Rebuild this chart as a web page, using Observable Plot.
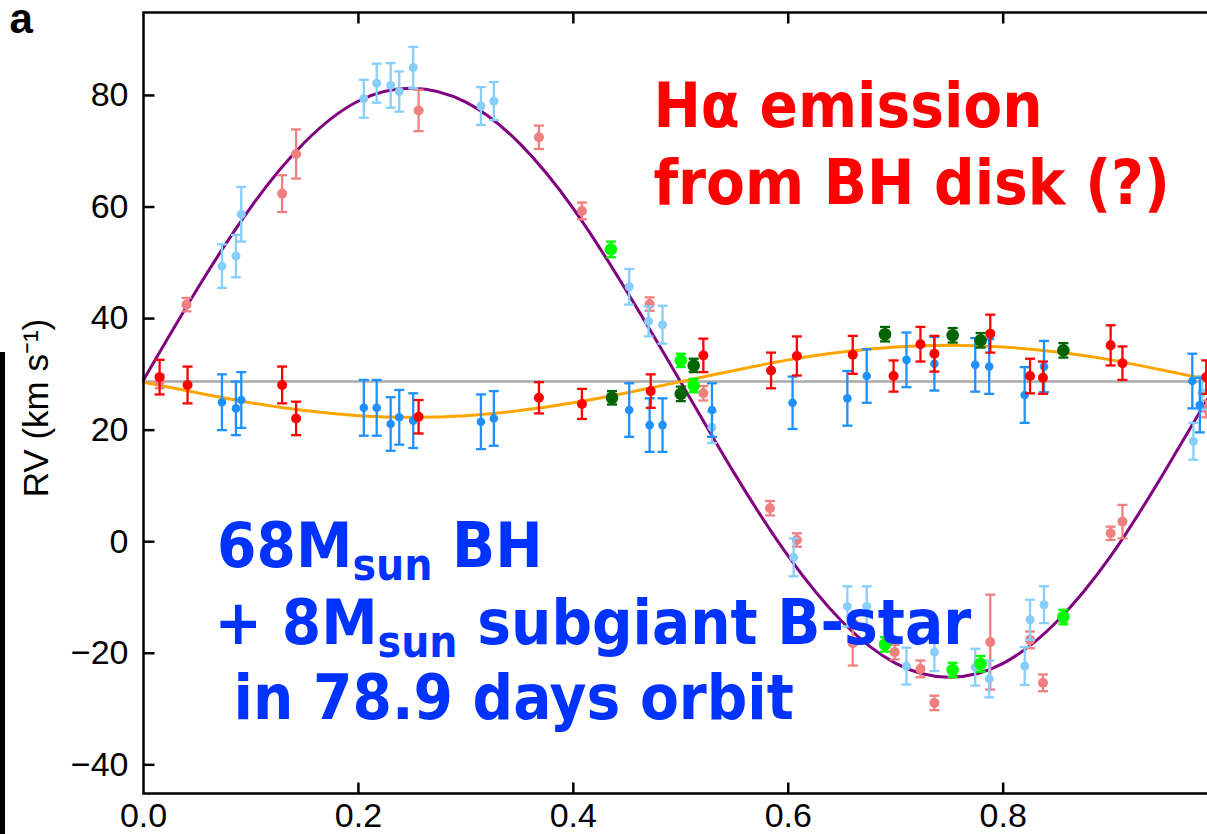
<!DOCTYPE html>
<html><head><meta charset="utf-8">
<script src="https://cdn.jsdelivr.net/npm/d3@7"></script>
<script src="https://cdn.jsdelivr.net/npm/@observablehq/plot@0.6"></script>
<style>
body{margin:0;background:#fff;}
#chart{position:relative;width:1207px;height:834px;overflow:hidden;background:#fff;}
#bar{position:absolute;left:0;top:352px;width:5px;height:482px;background:#000;}
</style></head><body>
<div id="chart"><div id="bar"></div></div>
<script>
// ---------- data (phase, RV km/s, error) ----------
// B-star lines (light sky blue)
const skyPhase = [0.073,0.086,0.091,0.205,0.217,0.230,0.238,0.251,0.314,0.326,0.452,0.470,0.483,0.529,0.605,0.655,0.673,0.710,0.736,0.774,0.787,0.820,0.825,0.838,0.977,0.985];
const skyRV    = [49.4,51.2,58.7,79.4,82.2,81.8,80.7,85.0,78.1,79.0,45.7,39.5,38.9,20.5,-2.8,-11.6,-11.6,-22.3,-19.8,-22.5,-24.6,-22.3,-14.0,-11.3,18.0,26.7];
const skyErr   = [3.9,3.8,4.9,3.4,3.5,4.0,3.6,3.7,3.4,3.4,3.2,2.7,3.4,2.8,3.4,3.6,3.6,3.3,3.4,3.3,3.3,3.4,3.6,3.3,3.3,3.0];
// B-star lines (light coral)
const coralPhase = [0.015,0.040,0.129,0.142,0.256,0.368,0.408,0.471,0.521,0.583,0.608,0.660,0.699,0.723,0.736,0.788,0.825,0.837,0.900,0.911,0.989];
const coralRV    = [28.7,42.5,62.4,69.5,77.3,72.5,59.3,42.6,26.6,6.0,0.3,-18.2,-19.8,-22.8,-28.9,-18.0,-17.6,-25.3,1.5,3.6,23.8];
const coralErr   = [1.2,1.2,3.3,4.4,3.7,2.1,1.5,1.2,1.3,1.3,1.2,4.0,1.3,1.5,1.3,8.5,1.5,1.5,1.2,3.0,1.5];
// B-star (lime)
const limePhase = [0.435,0.500,0.512,0.690,0.753,0.779,0.856];
const limeRV    = [52.4,32.5,28.0,-18.4,-23.0,-21.9,-13.5];
const limeErr   = [1.4,1.2,1.2,1.3,1.3,1.4,1.3];
// H-alpha emission (red)
const redPhase = [0.015,0.041,0.129,0.142,0.256,0.368,0.408,0.472,0.521,0.584,0.608,0.660,0.698,0.723,0.736,0.788,0.825,0.837,0.900,0.911,0.989];
const redRV    = [29.5,28.1,28.1,22.1,22.4,25.8,24.7,27.0,33.4,30.7,33.3,33.5,29.7,35.4,33.7,37.3,29.7,29.4,35.2,32.0,29.5];
const redErr   = [3.1,3.3,3.3,3.0,3.0,2.8,2.7,3.0,3.0,3.2,3.5,3.4,2.8,3.1,3.2,3.4,3.1,2.9,3.6,3.0,3.0];
// H-alpha (dodger blue)
const dodgerPhase = [0.073,0.086,0.091,0.205,0.217,0.230,0.238,0.251,0.314,0.326,0.452,0.471,0.483,0.529,0.604,0.655,0.673,0.710,0.736,0.774,0.787,0.820,0.838,0.976,0.983];
const dodgerRV    = [25.0,23.9,25.4,24.0,24.0,21.1,22.3,21.7,21.5,22.1,23.6,20.9,20.9,23.6,24.9,25.7,29.7,32.6,31.9,31.7,31.4,26.3,31.4,28.8,24.5];
const dodgerErr   = [5.0,4.8,5.0,5.0,5.0,4.8,4.9,4.9,4.9,4.9,4.8,4.8,4.8,4.8,4.7,4.9,4.8,4.9,4.8,4.8,4.9,5.0,4.6,4.9,4.9];
// H-alpha (dark green)
const dgreenPhase = [0.436,0.500,0.512,0.690,0.753,0.779,0.856];
const dgreenRV    = [25.8,26.5,31.6,37.2,37.0,36.1,34.3];
const dgreenErr   = [1.2,1.3,1.2,1.3,1.3,1.3,1.3];
// model curves
const curvePhase  = [0,0.05,0.10,0.15,0.20,0.25,0.30,0.35,0.40,0.45,0.50,0.55,0.60,0.65,0.70,0.75,0.80,0.85,0.90,0.95,1.00];
const purpleRV    = [29.0,45.3,60.0,71.6,79.0,81.3,78.8,71.4,59.7,44.8,28.6,12.2,-2.6,-14.3,-21.8,-24.3,-21.8,-14.3,-2.6,12.5,28.8];
const orangeRV    = [28.6,26.7,24.9,23.5,22.6,22.3,22.6,23.5,24.9,26.7,28.7,30.7,32.6,34.0,34.9,35.2,34.9,34.0,32.6,30.7,28.7];
const gammaRV = [28.7];
// ticks
const xTicks = [0.2,0.4,0.6,0.8];
const xLabels = [0,0.2,0.4,0.6,0.8];
const yTicks = [-40,-20,0,20,40,60,80];

// ---------- helpers ----------
const rows = (p, v, e) => p.map((x, i) => ({phase: x, rv: v[i], err: e[i]}));
const capSym = {draw(ctx){ ctx.moveTo(-5,0); ctx.lineTo(5,0); }};
const tickUp = {draw(ctx){ ctx.moveTo(0,0); ctx.lineTo(0,-11); }};
const tickDown = {draw(ctx){ ctx.moveTo(0,0); ctx.lineTo(0,11); }};
const tickRight = {draw(ctx){ ctx.moveTo(0,0); ctx.lineTo(11,0); }};
const tickLeft = {draw(ctx){ ctx.moveTo(0,0); ctx.lineTo(-11,0); }};

function errSeries(data, color, r, sw) {
  return [
    Plot.ruleX(data, {x: "phase", y1: d => d.rv - d.err, y2: d => d.rv + d.err, stroke: color, strokeWidth: sw}),
    Plot.dot(data, {x: "phase", y: d => d.rv + d.err, symbol: capSym, stroke: color, fill: "none", strokeWidth: sw}),
    Plot.dot(data, {x: "phase", y: d => d.rv - d.err, symbol: capSym, stroke: color, fill: "none", strokeWidth: sw}),
    Plot.dot(data, {x: "phase", y: "rv", r, fill: color, stroke: "none"})
  ];
}

const annFont = "'DejaVu Sans Condensed', 'DejaVu Sans', sans-serif";

const plot = Plot.plot({
  width: 1207,
  height: 834,
  marginLeft: 143,
  marginRight: -10.6,
  marginTop: 12,
  marginBottom: 41,
  style: {fontFamily: "'Liberation Sans', Arial, Helvetica, sans-serif", background: "white", color: "black"},
  x: {domain: [0, 1]},
  y: {domain: [-45.14, 94.87]},
  marks: [
    Plot.ruleY(gammaRV, {stroke: "#aaaaaa", strokeWidth: 2.5}),
    Plot.line(curvePhase.map((p, i) => ({phase: p, rv: purpleRV[i]})), {x: "phase", y: "rv", stroke: "#800080", strokeWidth: 3, curve: "natural"}),
    Plot.line(curvePhase.map((p, i) => ({phase: p, rv: orangeRV[i]})), {x: "phase", y: "rv", stroke: "#ffa500", strokeWidth: 3, curve: "natural"}),
    ...errSeries(rows(coralPhase, coralRV, coralErr), "#f08080", 5, 2.3),
    ...errSeries(rows(skyPhase, skyRV, skyErr), "#87cefa", 4.5, 2.3),
    ...errSeries(rows(dodgerPhase, dodgerRV, dodgerErr), "#1e90ff", 4.3, 2.3),
    ...errSeries(rows(redPhase, redRV, redErr), "#ff0000", 5, 2.3),
    ...errSeries(rows(dgreenPhase, dgreenRV, dgreenErr), "#006400", 6.3, 2.3),
    ...errSeries(rows(limePhase, limeRV, limeErr), "#00ff00", 6.3, 2.3),
    Plot.frame({stroke: "black", strokeWidth: 2.5}),
    Plot.dot(xTicks, {x: d => d, frameAnchor: "bottom", symbol: tickUp, stroke: "black", fill: "none", strokeWidth: 2.5}),
    Plot.dot(xTicks, {x: d => d, frameAnchor: "top", symbol: tickDown, stroke: "black", fill: "none", strokeWidth: 2.5}),
    Plot.dot(yTicks, {y: d => d, frameAnchor: "left", symbol: tickRight, stroke: "black", fill: "none", strokeWidth: 2.5}),
    Plot.dot(yTicks, {y: d => d, frameAnchor: "right", symbol: tickLeft, stroke: "black", fill: "none", strokeWidth: 2.5}),
    Plot.axisX(xLabels, {tickSize: 0, tickPadding: 9, fontSize: 34, tickFormat: d3.format(".1f"), label: null}),
    Plot.axisY(yTicks, {tickSize: 0, tickPadding: 15, fontSize: 34, tickFormat: d3.format("d"), label: null}),
    Plot.text(["RV (km s⁻¹)"], {frameAnchor: "left", dx: -107, dy: 5, rotate: -90, fontSize: 35, textAnchor: "middle", lineAnchor: "middle", fill: "black"}),
    Plot.text(["a"], {frameAnchor: "top-left", dx: -134, dy: 20, fontSize: 42, fontWeight: "bold", textAnchor: "start", lineAnchor: "bottom", fill: "black"}),
    // annotations
    Plot.text(["Hα emission"], {x: 0.4745, y: 74.26, fontSize: 63, fontWeight: "bold", fontFamily: annFont, fill: "#ff0000", textAnchor: "start", lineAnchor: "bottom"}),
    Plot.text(["from BH disk (?)"], {x: 0.4745, y: 60.57, fontSize: 63, fontWeight: "bold", fontFamily: annFont, fill: "#ff0000", textAnchor: "start", lineAnchor: "bottom", letterSpacing: 0.8}),
    Plot.text(["68Msun BH"], {x: 0.0685, y: -4.57, fontSize: 63, fontWeight: "bold", fontFamily: annFont, fill: "#0033ff", textAnchor: "start", lineAnchor: "bottom"}),
    Plot.text(["+ 8Msun subgiant B-star"], {x: 0.0661, y: -18.3, fontSize: 63, fontWeight: "bold", fontFamily: annFont, fill: "#0033ff", textAnchor: "start", lineAnchor: "bottom"}),
    Plot.text(["in 78.9 days orbit"], {x: 0.0838, y: -31.75, fontSize: 63, fontWeight: "bold", fontFamily: annFont, fill: "#0033ff", textAnchor: "start", lineAnchor: "bottom"})
  ]
});

// subscripts "sun"
d3.select(plot).selectAll("text").each(function() {
  const s = this.textContent;
  if (!s.includes("Msun")) return;
  const [a, b] = s.split("Msun");
  const t = d3.select(this);
  t.text(null);
  t.append("tspan").text(a + "M");
  t.append("tspan").attr("font-size", 44).attr("dy", 13).text("sun");
  t.append("tspan").attr("dy", -13).text("\u00a0" + b.trimStart());
});
d3.select(plot).style("font-stretch", "condensed");
document.getElementById("chart").appendChild(plot);
</script></body></html>
